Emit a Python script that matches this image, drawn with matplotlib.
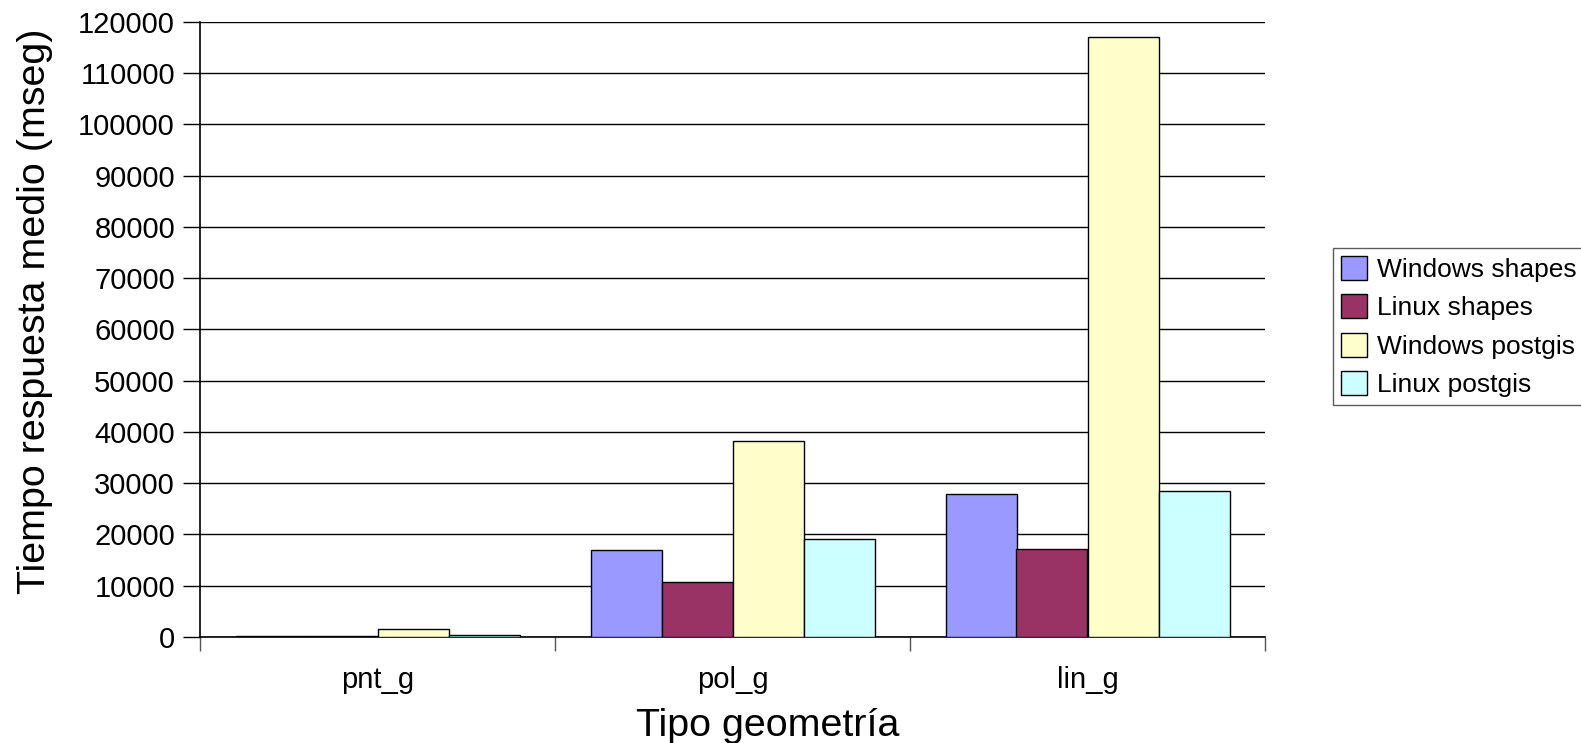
import matplotlib
matplotlib.use("Agg")
import matplotlib.pyplot as plt
import numpy as np

categories = ["pnt_g", "pol_g", "lin_g"]
series_names = ["Windows shapes", "Linux shapes", "Windows postgis", "Linux postgis"]
windows_shapes = [200, 16900, 27900]
linux_shapes = [100, 10650, 17250]
windows_postgis = [1650, 38250, 117000]
linux_postgis = [450, 19050, 28550]
colors = ["#9999FF", "#993366", "#FFFFCC", "#CCFFFF"]
yticks = list(range(0, 120001, 10000))

plt.rcParams['font.family'] = ['Liberation Sans', 'DejaVu Sans']

fig = plt.figure(figsize=(15.81, 7.43), dpi=100)
ax = fig.add_axes([200/1581, (743-637)/743, 1065/1581, (637-21.7)/743])

x = np.arange(len(categories))
width = 0.2
all_series = [windows_shapes, linux_shapes, windows_postgis, linux_postgis]
for i, (vals, name, c) in enumerate(zip(all_series, series_names, colors)):
    ax.bar(x + (i - 1.5) * width, vals, width, color=c, edgecolor="black",
           linewidth=1.0, label=name, zorder=3)

ax.set_xlim(-0.5, len(categories) - 0.5)
ax.set_ylim(0, 120000)
ax.set_yticks(yticks)
ax.set_yticklabels([str(v) for v in yticks])
ax.yaxis.grid(True, color="black", linewidth=1.0, zorder=0)
ax.set_axisbelow(True)

# x ticks at category boundaries, labels at centres
ax.set_xticks(np.arange(-0.5, len(categories), 1.0))
ax.set_xticklabels([])
ax.set_xticks(x, minor=True)
ax.set_xticklabels(categories, minor=True)
ax.tick_params(axis="x", which="major", direction="out", length=10, width=1, color="#555555")
ax.tick_params(axis="x", which="minor", length=0, pad=21, labelsize=21)
ax.tick_params(axis="y", direction="out", length=12, width=1, pad=6, labelsize=21)

for s in ["top", "right"]:
    ax.spines[s].set_visible(False)
ax.spines["left"].set_linewidth(1.2)
ax.spines["bottom"].set_linewidth(1.2)

ax.set_xlabel("Tipo geometría", fontsize=28.4, labelpad=10)
ax.set_ylabel("Tiempo respuesta medio (mseg)", fontsize=28.4, labelpad=18)
ax.xaxis.label.set_x(0.533)
ax.yaxis.label.set_y(0.53)

leg = fig.legend(loc="upper left", bbox_to_anchor=(1333/1581, 1 - 248/743),
                 fontsize=19, frameon=True, fancybox=False, edgecolor="#333333",
                 handlelength=1.0, handleheight=1.0, handletextpad=0.36,
                 labelspacing=0.48, borderpad=0.3, borderaxespad=0)
leg.get_frame().set_linewidth(1.0)

fig.savefig("out.png", dpi=100)
